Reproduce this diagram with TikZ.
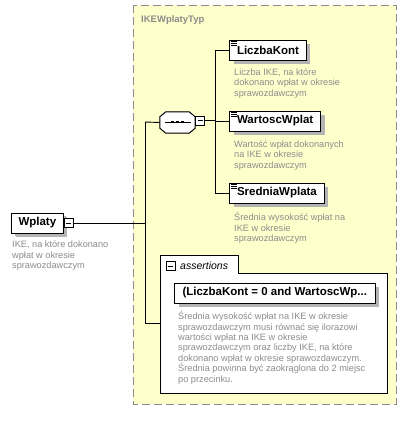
\documentclass[tikz,border=0pt]{standalone}
\usepackage{fontspec}
\setmainfont{Liberation Sans}
\usetikzlibrary{shadows}
\definecolor{boxyellow}{HTML}{FFFFCC}
\definecolor{desc}{HTML}{8C8C8C}
\definecolor{dashgray}{HTML}{8A8A8A}
\definecolor{shade}{HTML}{B4B4B4}
\newcommand{\dl}{\rule{0pt}{8pt}}
\begin{document}
\begin{tikzpicture}[x=1pt,y=-1pt,
  elbox/.style={draw=black, fill=white, line width=1pt, anchor=west, minimum height=20pt,
    inner xsep=7.5pt, inner ysep=0pt, font=\fontsize{11.5}{13}\selectfont\bfseries,
    drop shadow={shadow xshift=4pt, shadow yshift=-4pt, fill=shade, opacity=1}},
  desctext/.style={anchor=north west, inner sep=0pt, align=left, text=desc,
    font=\fontsize{9.2}{10.4}\selectfont},
  minusbox/.style={draw=black, fill=white, line width=0.7pt, minimum size=9pt, inner sep=0pt,
    path picture={\draw[line width=0.7pt] ([xshift=2pt]path picture bounding box.west) -- ([xshift=-2pt]path picture bounding box.east);}},
  conn/.style={draw=black, line width=0.9pt},
]
\useasboundingbox[fill=white] (0,0) rectangle (412,423);

% container
\draw[dashgray, dash pattern=on 8pt off 4pt, line width=1pt, fill=boxyellow] (133,5) rectangle (396,404);
\node[anchor=west, inner sep=0pt, text=desc, font=\fontsize{9.5}{11}\selectfont\bfseries] (typ) at (141,20) {IKEWplatyTyp};

% root element
\node[elbox, inner xsep=7pt, drop shadow={shadow xshift=3pt, shadow yshift=-3pt, fill=shade, opacity=1}] (wplaty) at (11,223) {Wplaty};
\node[minusbox, anchor=west] (wplatym) at (wplaty.east) {};
\node[desctext] (wplatyd) at (12,239.5) {\dl IKE, na które dokonano\\wpłat w okresie\\sprawozdawczym};

% junctions
\coordinate (vtop) at (145,122);
\coordinate (vbot) at (145,323);
\coordinate (rtop) at (215,50);
\coordinate (rbot) at (215,193);
\coordinate (asrt) at (160,323);

% sequence compositor
\node[inner sep=0pt, minimum width=35pt, minimum height=21pt] (seq) at (177.5,122.5) {};
\fill[shade, shift={(4,4)}] ([xshift=6pt]seq.north west) -- ([xshift=-6pt]seq.north east) -- ([yshift=-5pt]seq.north east) -- ([yshift=5pt]seq.south east) -- ([xshift=-6pt]seq.south east) -- ([xshift=6pt]seq.south west) -- ([yshift=5pt]seq.south west) -- ([yshift=-5pt]seq.north west) -- cycle;
\draw[line width=1pt, fill=white] ([xshift=6pt]seq.north west) -- ([xshift=-6pt]seq.north east) -- ([yshift=-5pt]seq.north east) -- ([yshift=5pt]seq.south east) -- ([xshift=-6pt]seq.south east) -- ([xshift=6pt]seq.south west) -- ([yshift=5pt]seq.south west) -- ([yshift=-5pt]seq.north west) -- cycle;
\draw[line width=0.9pt] ([xshift=-13pt,yshift=0.5pt]seq.center) -- ([xshift=13pt,yshift=0.5pt]seq.center);
\foreach \dx in {-5,0,5}
  \fill ([xshift=\dx pt-1.3pt,yshift=-0.8pt]seq.center) rectangle ([xshift=\dx pt+1.3pt,yshift=1.8pt]seq.center);
\node[minusbox, anchor=west] (seqm) at ([yshift=2pt]seq.east) {};

% children
\node[elbox] (liczba) at (229,50) {LiczbaKont};
\node[elbox] (wartosc) at (229,121) {WartoscWplat};
\node[elbox] (srednia) at (229,193) {SredniaWplata};
\foreach \n in {liczba,wartosc,srednia}
  \foreach \dy in {2,4,6}
    \draw[line width=0.6pt] ([xshift=2pt,yshift=-\dy pt]\n.north west) -- ([xshift=7.5pt,yshift=-\dy pt]\n.north west);

\node[desctext] (liczbad) at (234,67.3) {\dl Liczba IKE, na które\\dokonano wpłat w okresie\\sprawozdawczym};
\node[desctext] (wartoscd) at (234,139.3) {\dl Wartość wpłat dokonanych\\na IKE w okresie\\sprawozdawczym};
\node[desctext] (sredniad) at (234,212.3) {\dl Średnia wysokość wpłat na\\IKE w okresie\\sprawozdawczym};

% assertions
\draw[line width=1pt, fill=white] (160,255) -- (238,255) -- (238,273) -- (387,273) -- (387,393) -- (160,393) -- cycle;
\node[minusbox] (asm) at (170.5,266) {};
\node[anchor=west, inner sep=0pt, font=\fontsize{10.5}{12}\selectfont\itshape] (asl) at (180,266) {assertions};
\node[elbox, inner xsep=8pt] (asrtbox) at (174,293) {(LiczbaKont = 0 and WartoscWp...};
\node[desctext] (asd) at (178,311.3) {\dl Średnia wysokość wpłat na IKE w okresie\\sprawozdawczym musi równać się ilorazowi\\wartości wpłat na IKE w okresie\\sprawozdawczym oraz liczby IKE, na które\\dokonano wpłat w okresie sprawozdawczym.\\Średnia powinna być zaokrąglona do 2 miejsc\\po przecinku.};

% connectors
\draw[conn] (wplatym.east) -- (wplatym.east -| vtop);
\draw[conn] (vtop) -- (vbot);
\draw[conn] (vtop) -- (seq.west);
\draw[conn] (vbot) -- (asrt);
\draw[conn] (seqm.east) -- (seqm.east -| rtop);
\draw[conn] (rtop) -- (rbot);
\draw[conn] (rtop) -- (liczba.west);
\draw[conn] (wartosc.west -| rtop) -- (wartosc.west);
\draw[conn] (rbot) -- (srednia.west);
\end{tikzpicture}
\end{document}
